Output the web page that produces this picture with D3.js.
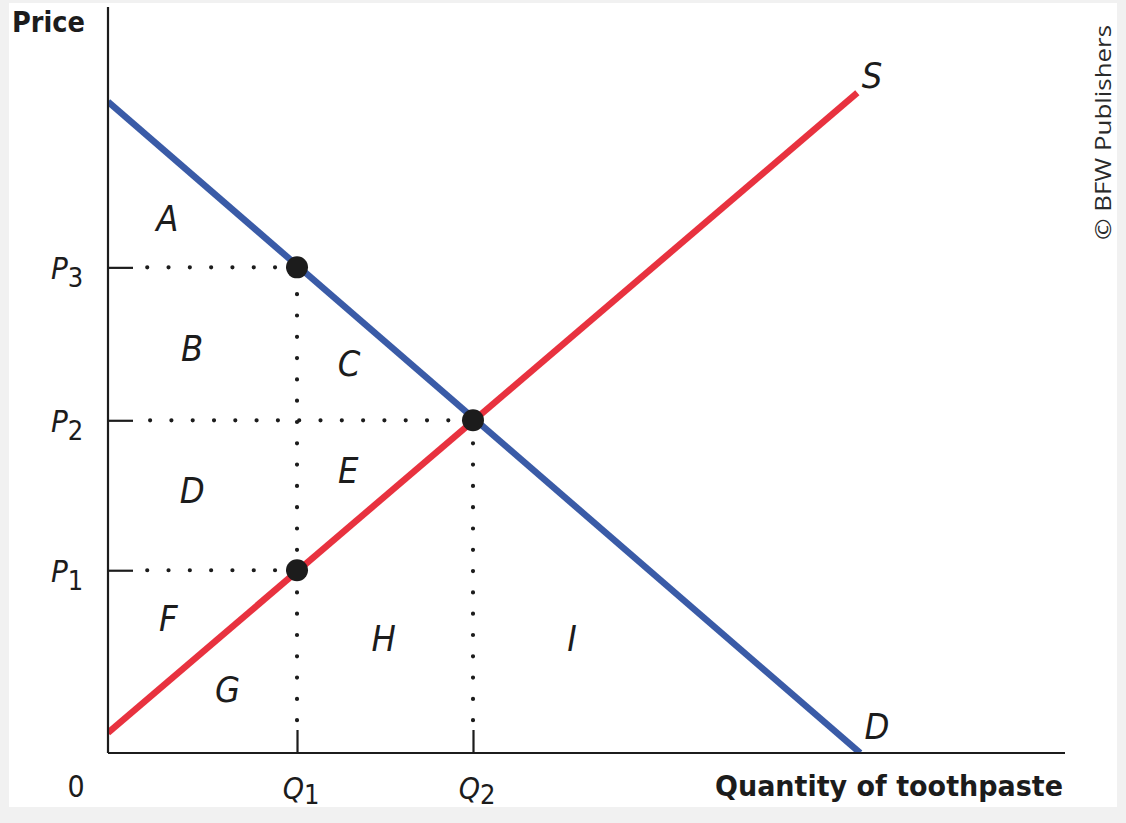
<!DOCTYPE html>
<html>
<head>
<meta charset="utf-8">
<script src="https://cdn.jsdelivr.net/npm/d3@7"></script>
<style>
  html, body { margin: 0; padding: 0; background: #f1f1f1; }
  svg { display: block; }
  .cond { font-family: "DejaVu Sans", sans-serif; font-stretch: condensed; }
</style>
</head>
<body>
<svg id="chart" width="1126" height="823"></svg>
<script>
// ---- data (arbitrary price / quantity units) ----
const quantities = { Q1: 1.975, Q2: 3.814 };
const prices = { P1: 2.45, P2: 4.46, P3: 6.51 };
const demandCurve = [[0, 8.73], [7.86, 0]];
const supplyCurve = [[0, 0.27], [7.83, 8.85]];
const marketPoints = [[1.975, 6.51], [3.814, 4.46], [1.975, 2.45]];
const yTickLabels = [["P", "3", 6.51], ["P", "2", 4.46], ["P", "1", 2.45]];
const xTickLabels = [["Q", "1", 1.975], ["Q", "2", 3.814]];
const areaLetters = ["A", "B", "C", "D", "E", "F", "G", "H", "I"];
const areaQ = [0.62, 0.88, 2.52, 0.88, 2.51, 0.63, 1.25, 2.88, 4.85];
const areaP = [7.0, 5.26, 5.05, 3.35, 3.62, 1.63, 0.68, 1.37, 1.37];

const svg = d3.select("#chart");

// white panel
svg.append("rect").attr("x", 9).attr("y", 3).attr("width", 1108).attr("height", 804).attr("fill", "#ffffff");

const x = d3.scaleLinear().domain([0, 10]).range([108, 1065]);
const y = d3.scaleLinear().domain([0, 10]).range([753, 7]);

const ink = "#1c1c1c";

// clip for curves
svg.append("defs").append("clipPath").attr("id", "plotclip")
  .append("rect").attr("x", x(0)).attr("y", 0).attr("width", 1000).attr("height", y(0));

const line = d3.line().x(d => x(d[0])).y(d => y(d[1]));

// dotted guide lines
const dotStyle = g => g.attr("stroke", ink).attr("stroke-width", 4.2)
  .attr("stroke-linecap", "round").attr("stroke-dasharray", "0 21.3").attr("fill", "none");

svg.append("path").call(dotStyle).attr("d", line([[0.41, prices.P3], [quantities.Q1, prices.P3]]));
svg.append("path").call(dotStyle).attr("d", line([[0.44, prices.P2], [quantities.Q2, prices.P2]]));
svg.append("path").call(dotStyle).attr("d", line([[0.41, prices.P1], [quantities.Q1, prices.P1]]));
svg.append("path").call(dotStyle).attr("d", line([[quantities.Q1, 0.44], [quantities.Q1, prices.P3]]));
svg.append("path").call(dotStyle).attr("d", line([[quantities.Q2, 0.44], [quantities.Q2, prices.P2]]));

// curves
const curves = svg.append("g").attr("clip-path", "url(#plotclip)");
curves.append("path").attr("d", line(demandCurve)).attr("stroke", "#3a5ba7")
  .attr("stroke-width", 6.5).attr("fill", "none");
curves.append("path").attr("d", line(supplyCurve)).attr("stroke", "#e8323f")
  .attr("stroke-width", 6.5).attr("fill", "none");

// axes
const xAxis = d3.axisBottom(x).tickValues([quantities.Q1, quantities.Q2])
  .tickSize(-23).tickFormat("");
const yAxis = d3.axisLeft(y).tickValues([prices.P1, prices.P2, prices.P3])
  .tickSize(-25).tickFormat("");
const gx = svg.append("g").attr("transform", `translate(0,${y(0)})`).call(xAxis);
const gy = svg.append("g").attr("transform", `translate(${x(0)},0)`).call(yAxis);
[gx, gy].forEach(g => {
  g.select(".domain").attr("stroke", ink).attr("stroke-width", 2.2);
  g.selectAll(".tick line").attr("stroke", ink).attr("stroke-width", 2.2);
});
gx.select(".domain").attr("d", `M${x(0)},0H1065`);
gy.select(".domain").attr("d", `M0,${y(0)}V7`);

// points
svg.selectAll("circle.pt").data(marketPoints).enter().append("circle")
  .attr("class", "pt").attr("cx", d => x(d[0])).attr("cy", d => y(d[1]))
  .attr("r", 11).attr("fill", ink);

// y tick labels
yTickLabels.forEach(([base, sub, v]) => {
  const t = svg.append("text").attr("class", "cond").attr("x", 51).attr("y", y(v) + 12)
    .attr("font-size", 31).attr("fill", ink);
  t.append("tspan").attr("font-style", "italic").text(base);
  t.append("tspan").attr("dy", 8).attr("font-size", 27).text(sub);
});
// x tick labels
xTickLabels.forEach(([base, sub, v]) => {
  const t = svg.append("text").attr("class", "cond").attr("x", x(v) + 4).attr("y", 799)
    .attr("text-anchor", "middle").attr("font-size", 30).attr("fill", ink);
  t.append("tspan").attr("font-style", "italic").text(base);
  t.append("tspan").attr("dy", 5).attr("font-size", 27).text(sub);
});
svg.append("text").attr("class", "cond").attr("x", 76).attr("y", 797).attr("text-anchor", "middle")
  .attr("font-size", 30).attr("fill", ink).text("0");

// area letters
areaLetters.forEach((L, i) => {
  svg.append("text").attr("class", "cond").attr("x", x(areaQ[i])).attr("y", y(areaP[i]))
    .attr("text-anchor", "middle").attr("font-size", 36).attr("font-style", "italic")
    .attr("fill", ink).text(L);
});

// curve labels
svg.append("text").attr("class", "cond").attr("x", 872).attr("y", 88).attr("text-anchor", "middle")
  .attr("font-size", 36).attr("font-style", "italic").attr("fill", ink).text("S");
svg.append("text").attr("class", "cond").attr("x", 877).attr("y", 739).attr("text-anchor", "middle")
  .attr("font-size", 36).attr("font-style", "italic").attr("fill", ink).text("D");

// axis titles
svg.append("text").attr("class", "cond").attr("x", 12).attr("y", 32)
  .attr("font-size", 29).attr("font-weight", "bold").attr("fill", ink)
  .attr("textLength", 73).attr("lengthAdjust", "spacingAndGlyphs").text("Price");
svg.append("text").attr("class", "cond").attr("x", 715).attr("y", 796)
  .attr("font-size", 29).attr("font-weight", "bold").attr("fill", ink)
  .attr("textLength", 348).attr("lengthAdjust", "spacingAndGlyphs").text("Quantity of toothpaste");

// copyright
svg.append("text").attr("transform", "translate(1111,240) rotate(-90)")
  .attr("font-family", "'Open Sans', sans-serif").attr("font-size", 22).attr("fill", "#2a2a2a")
  .attr("textLength", 215).attr("lengthAdjust", "spacingAndGlyphs").text("© BFW Publishers");
</script>
</body>
</html>
